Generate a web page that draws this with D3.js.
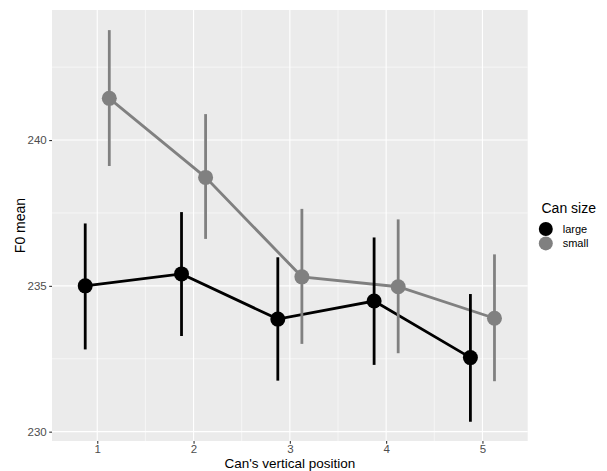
<!DOCTYPE html>
<html>
<head>
<meta charset="utf-8">
<script src="https://cdn.jsdelivr.net/npm/d3@7"></script>
<style>
	body { margin: 0; background: #ffffff; }
	svg text { font-family: "Liberation Sans", Arial, sans-serif; }
</style>
</head>
<body>
<div id="visHolder"></div>
<script>
// data
const positions = [1, 2, 3, 4, 5];
const groups = ["large", "small"];
const largeMean = [235.0, 235.41, 233.86, 234.48, 232.54];
const largeLower = [232.82, 233.28, 231.75, 232.29, 230.34];
const largeUpper = [237.14, 237.53, 235.98, 236.66, 234.72];
const smallMean = [241.43, 238.72, 235.31, 234.97, 233.89];
const smallLower = [239.11, 236.61, 233.01, 232.69, 231.73];
const smallUpper = [243.77, 240.89, 237.64, 237.28, 236.08];
const yTicks = [230, 235, 240];
const yMinorTicks = [232.5, 237.5, 242.5];
const xMinorTicks = [1.5, 2.5, 3.5, 4.5];

const options = {
	width: 607,
	height: 471,
	panel: { left: 52, right: 527.7, top: 10, bottom: 441 },
	xDomain: [0.53, 5.47],
	yDomain: [229.68, 244.46],
	dodge: 0.125,
	colors: { large: "#000000", small: "#808080" },
	pointRadius: 7.5,
	lineWidth: 2.8,
};

const series = [
	{ key: "large", mean: largeMean, lower: largeLower, upper: largeUpper },
	{ key: "small", mean: smallMean, lower: smallLower, upper: smallUpper },
].map((s, gi) =>
	Object.assign(s, {
		points: positions.map((p, i) => ({
			x: p + (gi === 0 ? -options.dodge : options.dodge),
			y: s.mean[i],
			lo: s.lower[i],
			hi: s.upper[i],
		})),
	})
);

Chart(options);

function Chart({ width, height, panel, xDomain, yDomain, colors, pointRadius, lineWidth }) {
	const svg = d3
		.select("#visHolder")
		.append("svg")
		.attr("width", width)
		.attr("height", height);

	//scales
	const x = d3.scaleLinear().domain(xDomain).range([panel.left, panel.right]);
	const y = d3.scaleLinear().domain(yDomain).range([panel.bottom, panel.top]);

	//panel background
	svg
		.append("rect")
		.attr("x", panel.left)
		.attr("y", panel.top)
		.attr("width", panel.right - panel.left)
		.attr("height", panel.bottom - panel.top)
		.attr("fill", "#EBEBEB");

	//grid
	const grid = svg.append("g");
	grid
		.selectAll(".ymin")
		.data(yMinorTicks)
		.join("line")
		.attr("x1", panel.left)
		.attr("x2", panel.right)
		.attr("y1", (d) => y(d))
		.attr("y2", (d) => y(d))
		.attr("stroke", "#fff")
		.attr("stroke-width", 0.55);
	grid
		.selectAll(".xmin")
		.data(xMinorTicks)
		.join("line")
		.attr("y1", panel.top)
		.attr("y2", panel.bottom)
		.attr("x1", (d) => x(d))
		.attr("x2", (d) => x(d))
		.attr("stroke", "#fff")
		.attr("stroke-width", 0.55);
	grid
		.selectAll(".ymaj")
		.data(yTicks)
		.join("line")
		.attr("x1", panel.left)
		.attr("x2", panel.right)
		.attr("y1", (d) => y(d))
		.attr("y2", (d) => y(d))
		.attr("stroke", "#fff")
		.attr("stroke-width", 1.1);
	grid
		.selectAll(".xmaj")
		.data(positions)
		.join("line")
		.attr("y1", panel.top)
		.attr("y2", panel.bottom)
		.attr("x1", (d) => x(d))
		.attr("x2", (d) => x(d))
		.attr("stroke", "#fff")
		.attr("stroke-width", 1.1);

	//axes
	const xAxis = svg
		.append("g")
		.attr("transform", `translate(0,${panel.bottom})`)
		.call(d3.axisBottom(x).tickValues(positions).tickSize(2.8).tickPadding(1.5).tickFormat(d3.format("d")));
	const yAxis = svg
		.append("g")
		.attr("transform", `translate(${panel.left},0)`)
		.call(d3.axisLeft(y).tickValues(yTicks).tickSize(2.8).tickPadding(2.5));
	[xAxis, yAxis].forEach((a) => {
		a.select(".domain").remove();
		a.selectAll("line").attr("stroke", "#333333").attr("stroke-width", 1.1);
		a.selectAll("text")
			.attr("fill", "#4D4D4D")
			.style("font-size", "11.5px")
			.style("font-family", '"Liberation Sans", Arial, sans-serif');
	});

	//lines
	const line = d3
		.line()
		.x((d) => x(d.x))
		.y((d) => y(d.y));
	svg
		.selectAll(".series-line")
		.data(series)
		.join("path")
		.attr("class", "series-line")
		.attr("d", (s) => line(s.points))
		.attr("fill", "none")
		.attr("stroke", (s) => colors[s.key])
		.attr("stroke-width", lineWidth);

	//error bars
	series.forEach((s) => {
		svg
			.append("g")
			.selectAll("line")
			.data(s.points)
			.join("line")
			.attr("x1", (d) => x(d.x))
			.attr("x2", (d) => x(d.x))
			.attr("y1", (d) => y(d.lo))
			.attr("y2", (d) => y(d.hi))
			.attr("stroke", colors[s.key])
			.attr("stroke-width", lineWidth);
	});

	//points
	series.forEach((s) => {
		svg
			.append("g")
			.selectAll("circle")
			.data(s.points)
			.join("circle")
			.attr("cx", (d) => x(d.x))
			.attr("cy", (d) => y(d.y))
			.attr("r", pointRadius)
			.attr("fill", colors[s.key]);
	});

	//axis titles
	svg
		.append("text")
		.attr("x", (panel.left + panel.right) / 2)
		.attr("y", 467.5)
		.attr("text-anchor", "middle")
		.style("font-size", "13.5px")
		.attr("fill", "#000")
		.text("Can's vertical position");
	svg
		.append("text")
		.attr("transform", `translate(25,${(panel.top + panel.bottom) / 2}) rotate(-90)`)
		.attr("text-anchor", "middle")
		.style("font-size", "14px")
		.attr("fill", "#000")
		.text("F0 mean");

	//legend
	const legend = svg.append("g").attr("transform", "translate(541.5,0)");
	legend
		.append("text")
		.attr("x", 0)
		.attr("y", 213)
		.style("font-size", "14px")
		.attr("fill", "#000")
		.text("Can size");
	const items = legend
		.selectAll(".legend-item")
		.data(groups)
		.join("g")
		.attr("class", "legend-item")
		.attr("transform", (_d, i) => `translate(0,${229 + i * 14.4})`);
	items
		.append("circle")
		.attr("cx", 4.3)
		.attr("cy", 0)
		.attr("r", 7)
		.attr("fill", (d) => colors[d]);
	items
		.append("text")
		.attr("x", 21.2)
		.attr("y", 4)
		.style("font-size", "11px")
		.attr("fill", "#000")
		.text((d) => d);
}
</script>
</body>
</html>
